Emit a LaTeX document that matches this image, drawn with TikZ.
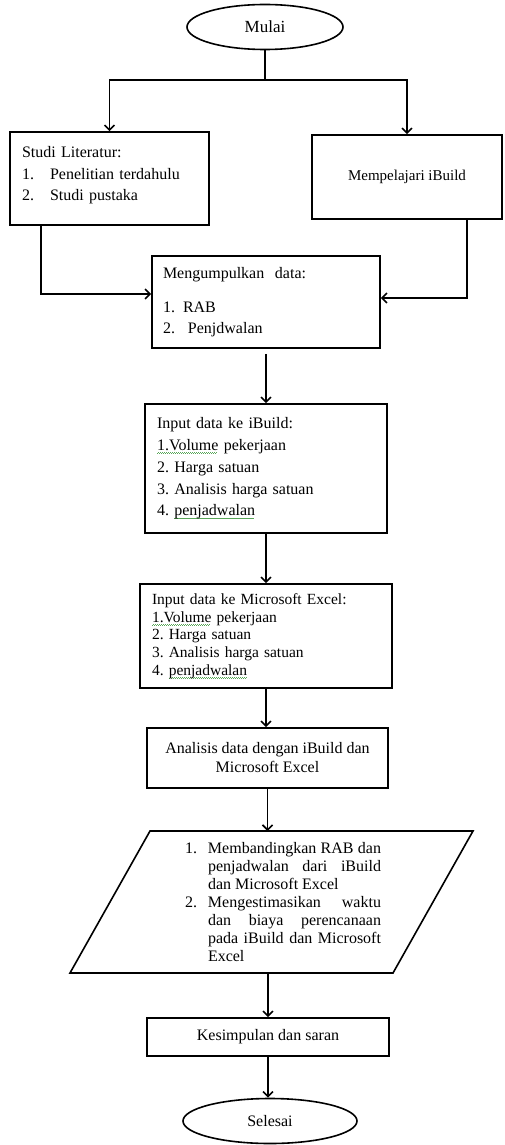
\documentclass[tikz,border=0pt]{standalone}
\usepackage{fontspec}
\setmainfont{Liberation Serif}
\usetikzlibrary{shapes.geometric,arrows.meta}
\definecolor{spell}{rgb}{0.35,0.65,0.35}
\newsavebox\wavebox
\newcommand\gwave[1]{\sbox\wavebox{#1}\leavevmode\rlap{\raisebox{-3.2pt}{\textcolor{spell}{\hbox to \wd\wavebox{\leaders\hbox to 2pt{\rule[0pt]{1pt}{0.7pt}\rule[0.7pt]{1pt}{0.7pt}}\hfill}}}}\usebox\wavebox}
\frenchspacing
\begin{document}
\frenchspacing
\begin{tikzpicture}[x=1pt,y=-1pt,
  box/.style={draw, line width=1.6pt, rectangle, inner sep=0pt},
  oval/.style={draw, ellipse, line width=1.6pt, inner sep=0pt},
  arr/.style={-{Straight Barb[length=5pt,width=10pt]}, line width=1.6pt},
  conn/.style={line width=1.6pt},
  txt/.style={font=\fontsize{16}{21.5}\selectfont}]
\useasboundingbox (0,0) rectangle (504,1145);

\node[oval, minimum width=156pt, minimum height=45pt, font=\fontsize{17}{20}\selectfont] (mulai) at (265,27) {Mulai};

\node[box, txt, minimum width=199pt, minimum height=93pt, text width=175pt, align=left] (studi) at (109.5,178.5)
  {Studi Literatur:\\ \makebox[28pt][l]{1.}Penelitian terdahulu\\ \makebox[28pt][l]{2.}Studi pustaka\\[-12pt]\mbox{}};

\node[box, minimum width=190pt, minimum height=84pt, font=\fontsize{15}{18}\selectfont] (ibuild) at (407,177) {Mempelajari iBuild};

\node[box, txt, minimum width=228pt, minimum height=92pt, text width=206pt, align=left] (kumpul) at (266,302)
  {Mengumpulkan\ \ data:\\[12.5pt] \makebox[20pt][l]{1.}RAB\\ \makebox[25pt][l]{2.}Penjdwalan};

\node[box, font=\fontsize{16}{21.7}\selectfont, minimum width=242pt, minimum height=129pt, text width=218pt, align=left] (input) at (266,468.5)
  {Input data ke iBuild:\\ \gwave{1.Volume} pekerjaan\\ 2. Harga satuan\\ 3. Analisis harga satuan\\ 4. \gwave{penjadwalan}};

\node[box, font=\fontsize{15.5}{17.7}\selectfont, minimum width=252pt, minimum height=104pt, text width=228pt, align=left] (excel) at (266,636)
  {Input data ke Microsoft Excel:\\ \gwave{1.Volume} pekerjaan\\ 2. Harga satuan\\ 3. Analisis harga satuan\\ 4. \gwave{penjadwalan}};

\node[box, font=\fontsize{16}{19}\selectfont, minimum width=241pt, minimum height=60pt, align=center] (anal) at (267.5,758)
  {Analisis data dengan iBuild dan\\ Microsoft Excel};

\draw[line width=1.6pt, line join=miter] (150,831) -- (473,831) -- (393,973) -- (70,973) -- cycle;
\coordinate (ptop) at (268,831);
\coordinate (pbot) at (268,973);
\node[font=\fontsize{16}{18}\selectfont, text width=196pt, align=justify, inner sep=0pt] (cmp) at (283,902)
  {\hangindent=23pt\hangafter=1\makebox[23pt][l]{1.}Membandingkan RAB dan\linebreak penjadwalan dari iBuild\linebreak dan Microsoft Excel\par
   \hangindent=23pt\hangafter=1\makebox[23pt][l]{2.}Mengestimasikan waktu\linebreak dan biaya perencanaan\linebreak pada iBuild dan Microsoft\linebreak Excel\par};

\node[box, font=\fontsize{16}{19}\selectfont, minimum width=242pt, minimum height=38pt] (kes) at (268,1037) {Kesimpulan dan saran};

\node[oval, minimum width=174pt, minimum height=45pt, font=\fontsize{16}{19}\selectfont] (selesai) at (270,1121) {Selesai};

% connectors
\draw[conn] (mulai.south) -- (265,80) coordinate (split);
\draw[arr] (split) -| (studi.north);
\draw[arr] (split) -| (ibuild.north);
\draw[arr] ([xshift=32pt]studi.south west) |- ([yshift=8pt]kumpul.west);
\draw[arr] ([xshift=-36pt]ibuild.south east) |- ([yshift=4pt]kumpul.east);
\draw[arr] ([yshift=-5pt]kumpul.south) -- (kumpul.south |- input.north);
\draw[arr] (input.south) -- (input.south |- excel.north);
\draw[arr] (excel.south) -- (excel.south |- anal.north);
\draw[arr] (anal.south) -- (anal.south |- ptop);
\draw[arr] (pbot) -- (pbot |- kes.north);
\draw[arr] (kes.south) -- (kes.south |- selesai.north);
\end{tikzpicture}
\end{document}
